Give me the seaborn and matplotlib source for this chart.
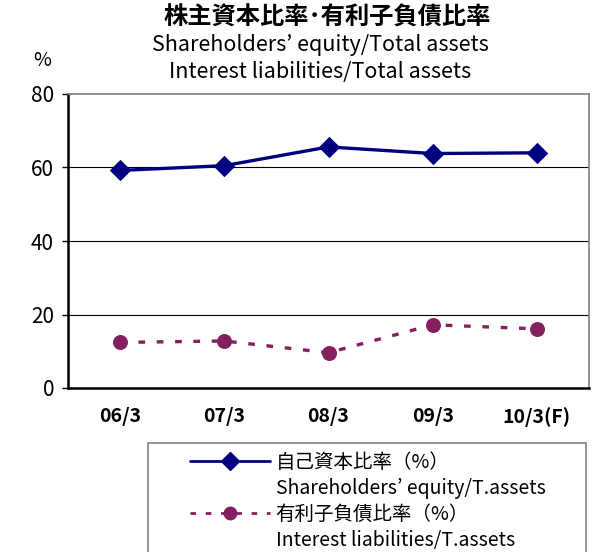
import numpy as np
import pandas as pd
import matplotlib
matplotlib.use('Agg')
import matplotlib.pyplot as plt
from matplotlib.lines import Line2D
from matplotlib.patches import Rectangle
import seaborn as sns

sns.set_style('white')
plt.rcParams['font.family'] = ['Noto Sans CJK JP', 'DejaVu Sans']
plt.rcParams['text.color'] = 'black'
plt.rcParams['xtick.color'] = 'black'
plt.rcParams['ytick.color'] = 'black'

# data
periods = ['06/3', '07/3', '08/3', '09/3', '10/3(F)']
equity_ratio = [59.2, 60.5, 65.6, 63.8, 64.0]
liability_ratio = [12.4, 12.8, 9.6, 17.2, 16.1]

legend_labels = ['自己資本比率（%）', 'Shareholders\u2019 equity/T.assets',
                 '有利子負債比率（%）', 'Interest liabilities/T.assets']

NAVY = '#000080'
PLUM = '#85205F'
W, H = 596, 552

df = pd.DataFrame({'period': periods, 'equity': equity_ratio, 'liab': liability_ratio})
df['pos'] = np.arange(len(periods))

fig = plt.figure(figsize=(W / 100, H / 100), dpi=100)
ax = fig.add_axes([68 / W, 1 - 388 / H, 521 / W, 294 / H])

sns.lineplot(data=df, x='pos', y='equity', ax=ax, color=NAVY, lw=2.4,
             marker='D', markersize=10, markeredgecolor=NAVY)
sns.lineplot(data=df, x='pos', y='liab', ax=ax, color=PLUM, lw=2.4,
             marker='o', markersize=10, markeredgecolor=PLUM)
ax.lines[1].set_dashes((2, 3.5))

ax.set_xlim(-0.5, len(periods) - 0.5)
ax.set_ylim(0, 80)
ax.set_yticks([0, 20, 40, 60, 80])
ax.set_xticks(df['pos'])
ax.set_xticklabels(periods, fontsize=14, fontweight='bold')
ax.tick_params(axis='y', labelsize=15, length=4, width=1, direction='out', left=True, pad=6)
ax.tick_params(axis='x', length=0, pad=14)
ax.set_xlabel('')
ax.set_ylabel('')

for y in [20, 40, 60]:
    ax.axhline(y, color='black', lw=0.8, zorder=0)

for side in ['left', 'bottom']:
    ax.spines[side].set_color('black')
    ax.spines[side].set_linewidth(1.8)
for side in ['top', 'right']:
    ax.spines[side].set_color('#808080')
    ax.spines[side].set_linewidth(1.2)

fig.text(327 / W, 1 - 18 / H, '株主資本比率\uff65有利子負債比率', ha='center', va='center',
         fontsize=17.5, fontweight='bold')
fig.text(320 / W, 1 - 45 / H, 'Shareholders\u2019 equity/Total assets', ha='center', va='center',
         fontsize=15.5)
fig.text(320 / W, 1 - 72 / H, 'Interest liabilities/Total assets', ha='center', va='center',
         fontsize=15.5)
fig.text(42 / W, 1 - 60 / H, '%', ha='center', va='center', fontsize=14)

# legend frame runs past the bottom of the picture
fig.patches.append(Rectangle((148 / W, -0.05), (586 - 148) / W, 0.05 + (552 - 443) / H,
                             transform=fig.transFigure, fill=False,
                             edgecolor='#808080', lw=1.2))

blank = Line2D([], [], linestyle='none', marker=None)
handles = [
    Line2D([], [], color=NAVY, lw=2, marker='D', markersize=9, markeredgecolor=NAVY),
    blank,
    Line2D([], [], color=PLUM, lw=2, dashes=(2, 3.5), marker='o', markersize=9,
           markeredgecolor=PLUM),
    blank,
]
leg = fig.legend(handles, legend_labels, loc='upper left',
                 bbox_to_anchor=(190 / W, 1 - 452 / H), frameon=False,
                 fontsize=14, handlelength=4.1, handletextpad=0.3, labelspacing=0.25,
                 borderpad=0, borderaxespad=0)

fig.savefig('out.png', dpi=100)
